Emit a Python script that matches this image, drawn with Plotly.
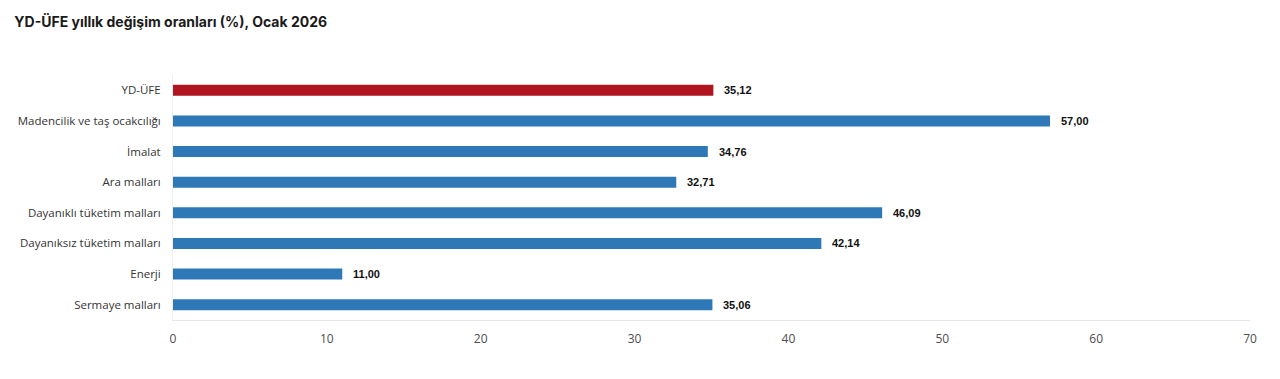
import plotly.graph_objects as go

categories = ["YD-ÜFE", "Madencilik ve taş ocakcılığı", "İmalat", "Ara malları",
              "Dayanıklı tüketim malları", "Dayanıksız tüketim malları", "Enerji", "Sermaye malları"]
values = [35.12, 57.00, 34.76, 32.71, 46.09, 42.14, 11.00, 35.06]
value_labels = ["35,12", "57,00", "34,76", "32,71", "46,09", "42,14", "11,00", "35,06"]
x_ticks = [0, 10, 20, 30, 40, 50, 60, 70]

colors = ["#B0151F"] + ["#2E78B8"] * (len(categories) - 1)

fig = go.Figure()
fig.add_trace(go.Bar(
    y=categories, x=values, orientation="h",
    marker=dict(color=colors, line=dict(width=0)),
    width=0.36, hoverinfo="skip",
))

for c, v, t in zip(categories, values, value_labels):
    fig.add_annotation(x=v, y=c, text="<b>" + t + "</b>", showarrow=False, xanchor="left", xshift=9,
                       font=dict(family="Liberation Sans, Arial", size=11, color="#111111"))

fig.update_layout(
    width=1264, height=363,
    margin=dict(l=165, r=22, t=67, b=51),
    paper_bgcolor="white", plot_bgcolor="white",
    showlegend=False,
    title=dict(text="<b>YD-ÜFE yıllık değişim oranları (%), Ocak 2026</b>",
               x=0.005, xanchor="left", y=0.961, yanchor="middle",
               font=dict(family="Inter", size=14, color="#1a1a1a")),
)
fig.update_xaxes(range=[0, 70], tickvals=x_ticks, ticktext=[str(v) for v in x_ticks],
                 showgrid=False, zeroline=False, showline=True, linecolor="#e6e6e6", linewidth=1,
                 ticks="", ticklabelstandoff=8, automargin=False,
                 tickfont=dict(family="Open Sans", size=12, color="#4d4d4d"))
fig.update_yaxes(autorange="reversed", showgrid=False, zeroline=False,
                 showline=True, linecolor="#eeeeee", linewidth=1, ticks="",
                 ticklabelstandoff=9, automargin=False,
                 tickfont=dict(family="Open Sans", size=11.5, color="#333333"))

fig.write_html("out.html")
